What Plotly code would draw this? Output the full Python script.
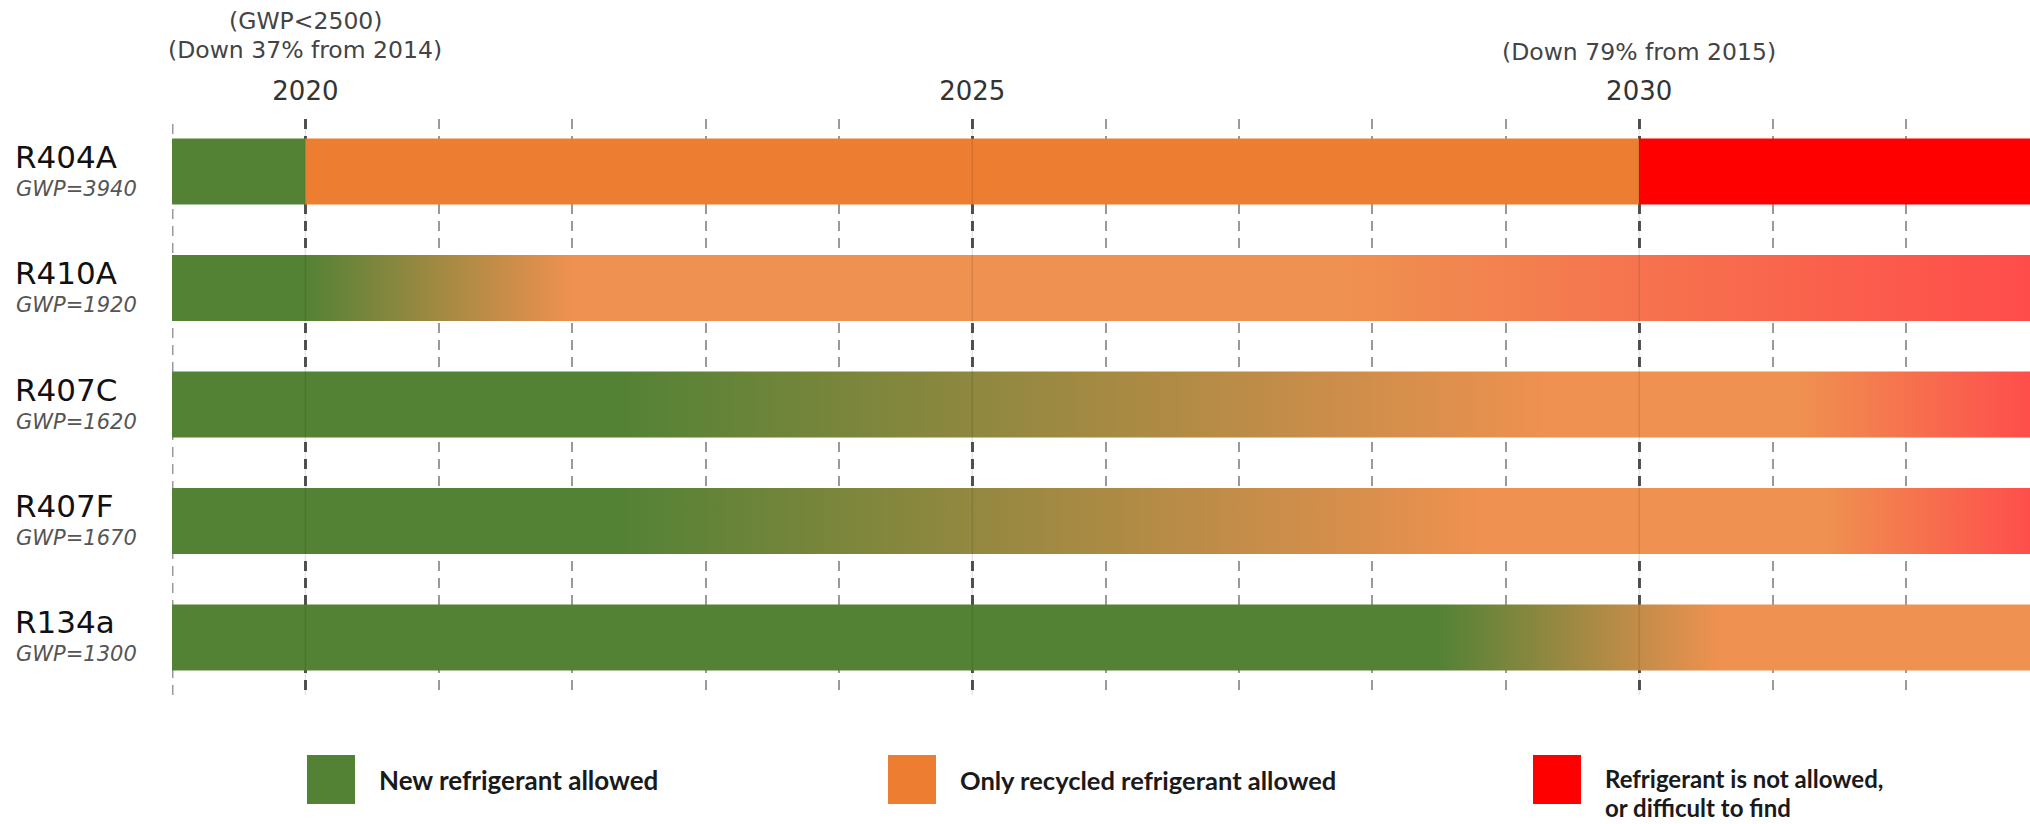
import plotly.graph_objects as go

# ---- data -------------------------------------------------------------
refrigerants = ["R404A", "R410A", "R407C", "R407F", "R134a"]
gwp_values = [3940, 1920, 1620, 1670, 1300]

# colour stops along each bar: (year, status)
# statuses: "new", "recycled", "banned"; a repeated year gives a hard edge,
# two different statuses at different years give a fade between them
status_stops = {
    "R404A": [(2019, "new_solid"), (2020, "new_solid"), (2020, "recycled_solid"),
              (2030, "recycled_solid"), (2030, "banned_solid"), (2033, "banned_solid")],
    "R410A": [(2019, "new"), (2020, "new"), (2022, "recycled"),
              (2027.8, "recycled"), (2033, "banned")],
    "R407C": [(2019, "new"), (2022.4, "new"), (2029.3, "recycled"),
              (2031.2, "recycled"), (2033, "banned")],
    "R407F": [(2019, "new"), (2022.4, "new"), (2028.8, "recycled"),
              (2031.4, "recycled"), (2033, "banned")],
    "R134a": [(2019, "new"), (2028.5, "new"), (2030.6, "recycled"),
              (2033, "recycled")],
}

first_year = 2019
year_ticks = [2020, 2025, 2030]
milestones = [
    (2020, ["(GWP<2500)", "(Down 37% from 2014)"]),
    (2030, ["(Down 79% from 2015)"]),
]

legend_labels = [["New refrigerant allowed"],
                 ["Only recycled refrigerant allowed"],
                 ["Refrigerant is not allowed,", "or difficult to find"]]

# ---- styling ----------------------------------------------------------
status_colors = {
    "new": "#548235", "new_solid": "#548235",
    "recycled": "#EF9150", "recycled_solid": "#ED7D31",
    "banned": "#FF4B4B", "banned_solid": "#FF0000",
}
legend_colors = ["#548235", "#ED7D31", "#FF0000"]
legend_font_sizes = [26, 25.5, 24]

W, H = 2030, 824
PLOT_L, PLOT_R, PLOT_T, PLOT_B = 172, 2030, 119, 695
X_RANGE = [2019, 2032.93]
Y_RANGE = [4.494, -0.451]
BAR_HALF = 0.283
GRID_DASH = "10px,7px"


def paper_x(px):
    return (px - PLOT_L) / (PLOT_R - PLOT_L)


def paper_y(py):
    return (PLOT_B - py) / (PLOT_B - PLOT_T)


fig = go.Figure()

for row, name in enumerate(refrigerants):
    stops = status_stops[name]
    x0, x1 = stops[0][0], stops[-1][0]
    scale = [[(yr - x0) / (x1 - x0), status_colors[st]] for yr, st in stops]
    fig.add_trace(go.Scatter(
        x=[x0, x1, x1, x0, x0],
        y=[row - BAR_HALF, row - BAR_HALF, row + BAR_HALF, row + BAR_HALF, row - BAR_HALF],
        mode="none",
        fill="toself",
        fillgradient=dict(type="horizontal", colorscale=scale, start=x0, stop=x1),
        hoverinfo="skip",
        showlegend=False,
    ))

annotations = []
shapes = []

# dashed guide at the first year (the axis grid skips the range edge);
# drawn wide because half of it falls outside the clipped plot area
shapes.append(dict(
    type="line", xref="x", yref="paper", x0=first_year, x1=first_year, y0=0, y1=1,
    line=dict(color="#9a9a9a", width=3, dash=GRID_DASH), layer="below",
))
# faint year markers showing through the bars
for yr in year_ticks:
    shapes.append(dict(
        type="line", xref="x", yref="paper", x0=yr, x1=yr, y0=0, y1=1,
        line=dict(color="rgba(0,0,0,0.10)", width=1.5), layer="above",
    ))

# refrigerant names and GWP values on the left
for row, (name, gwp) in enumerate(zip(refrigerants, gwp_values)):
    annotations.append(dict(
        x=paper_x(13), xref="paper", xanchor="left",
        y=row, yref="y", yanchor="middle", yshift=15,
        text=name, showarrow=False,
        font=dict(family="DejaVu Sans", size=31, color="#111111"),
    ))
    annotations.append(dict(
        x=paper_x(14), xref="paper", xanchor="left",
        y=row, yref="y", yanchor="middle", yshift=-17,
        text=f"<i>GWP={gwp}</i>", showarrow=False,
        font=dict(family="DejaVu Sans", size=21, color="#555555"),
    ))

# milestone notes above the year labels
for year, lines in milestones:
    base = 21 if len(lines) > 1 else 52
    for i, line in enumerate(lines):
        annotations.append(dict(
            x=year, xref="x", xanchor="center",
            y=paper_y(base + 29 * i), yref="paper", yanchor="middle",
            text=line, showarrow=False,
            font=dict(family="DejaVu Sans", size=23.5, color="#444444"),
        ))

# legend: swatches + labels (one annotation per text line)
legend_x = [307, 888, 1533]
for lx, lines, col, fs in zip(legend_x, legend_labels, legend_colors, legend_font_sizes):
    shapes.append(dict(
        type="rect", xref="paper", yref="paper",
        x0=paper_x(lx), x1=paper_x(lx + 48),
        y0=paper_y(804), y1=paper_y(755),
        fillcolor=col, line=dict(width=0),
    ))
    first_line_y = 778 if len(lines) > 1 else 779.5
    for i, line in enumerate(lines):
        annotations.append(dict(
            x=paper_x(lx + 70), xref="paper", xanchor="left",
            y=paper_y(first_line_y + 29 * i), yref="paper", yanchor="middle",
            text=f"<b>{line}</b>", showarrow=False, align="left",
            font=dict(family="Lato", size=fs, color="#1a1a1a"),
        ))

fig.update_layout(
    width=W, height=H,
    margin=dict(l=PLOT_L, r=W - PLOT_R, t=PLOT_T, b=H - PLOT_B),
    paper_bgcolor="white", plot_bgcolor="white",
    showlegend=False,
    annotations=annotations,
    shapes=shapes,
    xaxis=dict(
        side="top", range=X_RANGE,
        tickvals=year_ticks, ticktext=[str(y) for y in year_ticks],
        ticks="", ticklabelstandoff=13,
        tickfont=dict(family="DejaVu Sans", size=26, color="#333333"),
        showgrid=True, gridcolor="#555555", gridwidth=2.5, griddash=GRID_DASH,
        minor=dict(dtick=1, tick0=first_year, showgrid=True, gridcolor="#9a9a9a",
                   gridwidth=1.5, griddash=GRID_DASH),
        zeroline=False, showline=False, fixedrange=True,
    ),
    yaxis=dict(
        range=Y_RANGE, showgrid=False, zeroline=False, showline=False,
        showticklabels=False, ticks="", fixedrange=True,
    ),
)

fig.write_html("out.html")
